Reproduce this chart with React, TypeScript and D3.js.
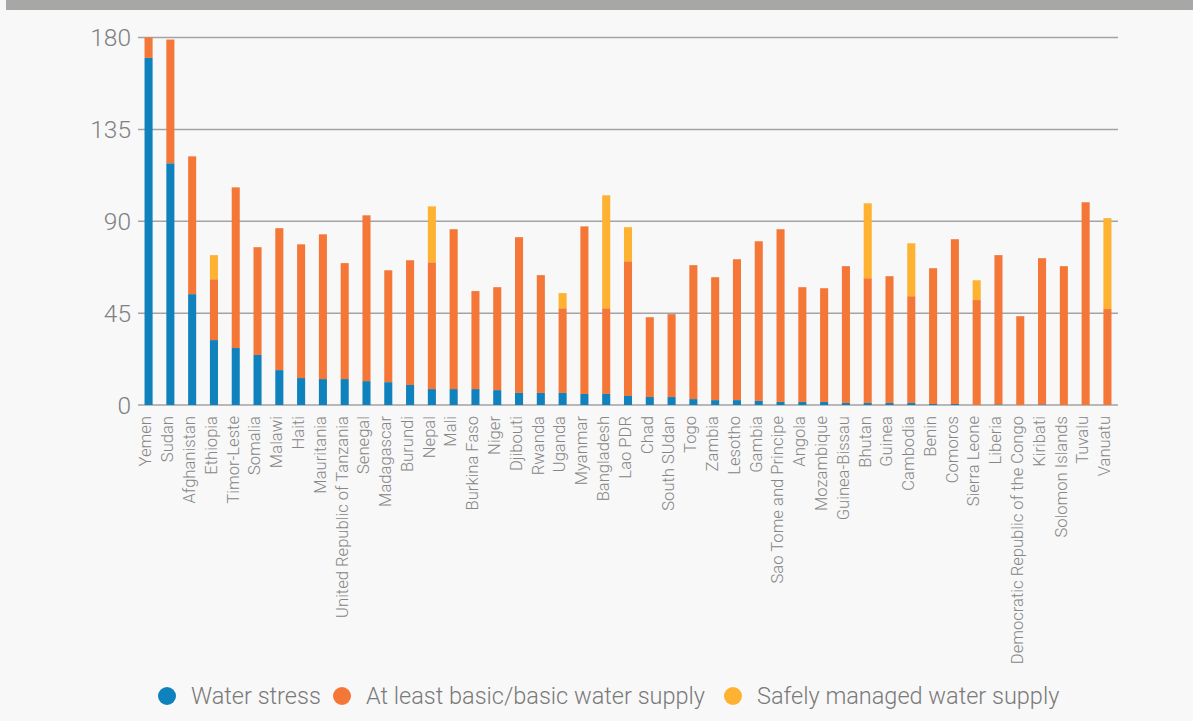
import React from "react";
import * as d3 from "d3";

const countries = [
  "Yemen", "Sudan", "Afghanistan", "Ethiopia", "Timor-Leste", "Somalia", "Malawi", "Haiti",
  "Mauritania", "United Republic of Tanzania", "Senegal", "Madagascar", "Burundi", "Nepal", "Mali",
  "Burkina Faso", "Niger", "Djibouti", "Rwanda", "Uganda", "Myanmar", "Bangladesh", "Lao PDR", "Chad",
  "South SUdan", "Togo", "Zambia", "Lesotho", "Gambia", "Sao Tome and Principe", "Angola", "Mozambique",
  "Guinea-Bissau", "Bhutan", "Guinea", "Cambodia", "Benin", "Comoros", "Sierra Leone", "Liberia",
  "Democratic Republic of the Congo", "Kiribati", "Solomon Islands", "Tuvalu", "Vanuatu",
];

const waterStress = [
  170, 118.4, 54.3, 31.8, 27.9, 24.5, 17.1, 13.2, 12.7, 12.7, 11.7, 11.2, 9.8, 7.8, 7.8,
  7.8, 7.3, 5.9, 5.9, 5.9, 5.4, 5.4, 4.4, 3.9, 3.9, 2.9, 2.4, 2.4, 2.0, 1.5, 1.5, 1.5,
  1.0, 1.0, 1.0, 1.0, 0.5, 0.5, 0, 0.3, 0, 0.3, 0, 0, 0,
];

const basicSupply = [
  10, 60.6, 67.5, 29.8, 78.7, 52.8, 69.5, 65.5, 70.9, 56.8, 81.2, 54.8, 61.1, 62.1, 78.3,
  48.0, 50.4, 76.3, 57.7, 41.5, 82.1, 42.0, 66.0, 39.1, 40.6, 65.6, 60.2, 69.0, 78.2, 84.6, 56.2, 55.7,
  67.0, 61.1, 62.1, 52.3, 66.5, 80.7, 51.4, 73.1, 43.5, 71.6, 68.0, 99.3, 47.0,
];

const safelyManaged = [
  0, 0, 0, 11.8, 0, 0, 0, 0, 0, 0, 0, 0, 0, 27.4, 0,
  0, 0, 0, 0, 7.4, 0, 55.3, 16.7, 0, 0, 0, 0, 0, 0, 0, 0, 0,
  0, 36.7, 0, 25.9, 0, 0, 9.7, 0, 0, 0, 0, 0, 44.5,
];

const yTicks = [0, 45, 90, 135, 180];
const seriesNames = ["Water stress", "At least basic/basic water supply", "Safely managed water supply"];
const seriesColors = ["#0f81bd", "#f47738", "#fdb232"];

const W = 1193;
const H = 721;

export default function App() {
  const x = d3.scaleBand<string>().domain(countries).range([138, 1118]).paddingInner(0.63).paddingOuter(0.3);
  const y = d3.scaleLinear().domain([0, 180]).range([405, 37.5]);

  const rows = countries.map((c, i) => ({
    country: c,
    s0: waterStress[i],
    s1: basicSupply[i],
    s2: safelyManaged[i],
  }));
  const stacked = d3.stack<any>().keys(["s0", "s1", "s2"])(rows);

  const legendX = [167, 342, 733];

  return (
    <svg
      width={W}
      height={H}
      style={{ position: "absolute", left: 0, top: 0, display: "block" }}
      fontFamily="Roboto, sans-serif"
    >
      <rect x={0} y={0} width={W} height={H} fill="#f8f8f8" />
      <rect x={6} y={0} width={W - 6} height={10} fill="#a7a7a6" />

      {yTicks.map((t) => (
        <g key={t}>
          <line x1={138} x2={1118} y1={y(t)} y2={y(t)} stroke="#a3a3a3" strokeWidth={1.5} />
          <text
            x={131}
            y={y(t)}
            dy="0.35em"
            textAnchor="end"
            fontSize={24.5}
            fontWeight={300}
            fill="#7f7f7f"
          >
            {t}
          </text>
        </g>
      ))}

      {stacked.map((layer, li) => (
        <g key={li} fill={seriesColors[li]}>
          {layer.map((d: any, i: number) => {
            const h = y(d[0]) - y(d[1]);
            if (h <= 0) return null;
            return (
              <rect
                key={i}
                x={x(countries[i])}
                y={y(d[1])}
                width={x.bandwidth()}
                height={h}
              />
            );
          })}
        </g>
      ))}

      {countries.map((c) => (
        <text
          key={c}
          transform={`translate(${(x(c) as number) + x.bandwidth() / 2 - 3},416) rotate(-90)`}
          dy="0.35em"
          textAnchor="end"
          fontSize={16.6}
          fontWeight={300}
          fill="#868686"
        >
          {c}
        </text>
      ))}

      {seriesNames.map((n, i) => (
        <g key={n}>
          <circle cx={legendX[i]} cy={696} r={9} fill={seriesColors[i]} />
          <text x={legendX[i] + 24} y={696} dy="0.35em" fontSize={23.5} fontWeight={300} fill="#7a7a7a">
            {n}
          </text>
        </g>
      ))}
    </svg>
  );
}
